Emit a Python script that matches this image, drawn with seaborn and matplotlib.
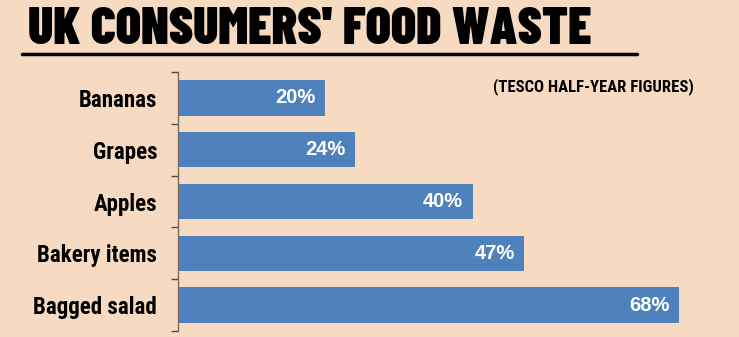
import matplotlib
matplotlib.use("Agg")
import matplotlib.pyplot as plt
import seaborn as sns
import pandas as pd

categories = ["Bananas", "Grapes", "Apples", "Bakery items", "Bagged salad"]
waste_pct = [20, 24, 40, 47, 68]
title_text = "UK CONSUMERS' FOOD WASTE"
subtitle_text = "(TESCO HALF-YEAR FIGURES)"

BG = "#F6DBC2"
BAR = "#4F81BD"
HEAD = ["Barlow Condensed", "DejaVu Sans"]
COND = ["Roboto Condensed", "DejaVu Sans"]
PLAIN = ["Liberation Sans", "DejaVu Sans"]

sns.set_theme(style="white")
plt.rcParams["font.family"] = PLAIN

W, H = 739, 337
fig = plt.figure(figsize=(W / 100, H / 100), dpi=100, facecolor=BG)
ax = fig.add_axes([178 / W, 1 - 331 / H, (W - 178) / W, (331 - 72) / H])
ax.set_facecolor(BG)

df = pd.DataFrame({"item": categories, "pct": waste_pct})
sns.barplot(data=df, x="pct", y="item", orient="h", color=BAR,
            saturation=1, width=0.68, ax=ax, edgecolor="none")

ax.set_xlim(0, (W - 178) / 7.37)
ax.set_ylim(len(categories) - 0.5, -0.5)

# value labels inside the bar ends
for i, v in enumerate(waste_pct):
    ax.text(v - 1.3, i, f"{v}%", ha="right", va="center", color="white",
            fontsize=14.5, fontweight="bold", family=PLAIN)

# category labels and boundary tick marks
ax.set_yticks(range(len(categories)))
ax.set_yticklabels(categories, fontsize=16.5, fontweight="bold", family=COND, color="black")
ax.set_yticks([i - 0.5 for i in range(len(categories) + 1)], minor=True)
ax.tick_params(axis="y", which="major", length=0, pad=15)
ax.tick_params(axis="y", which="minor", length=5, width=1, color="#5a4a3a",
               direction="out", left=True)
ax.set_xticks([])
ax.set_xlabel("")
ax.set_ylabel("")

for s in ["top", "right", "bottom"]:
    ax.spines[s].set_visible(False)
ax.spines["left"].set_color("#7a6a5a")
ax.spines["left"].set_linewidth(1)

# headline, sized so it spans the width above the rule
title = fig.text(28 / W, 1 - 30 / H, title_text, ha="left", va="center",
                 fontsize=30, fontweight=900, family=HEAD, color="black")
renderer = fig.canvas.get_renderer()
span = title.get_window_extent(renderer).width
title.set_fontsize(30 * 565 / span)
fig.add_artist(plt.Line2D([22 / W, 637 / W], [1 - 54 / H, 1 - 54 / H],
                          color="black", linewidth=2.5, transform=fig.transFigure))

fig.text(493 / W, 1 - 87 / H, subtitle_text, ha="left", va="center",
         fontsize=12, fontweight="bold", family=COND, color="black")

fig.savefig("out.png", dpi=100, facecolor=BG)
